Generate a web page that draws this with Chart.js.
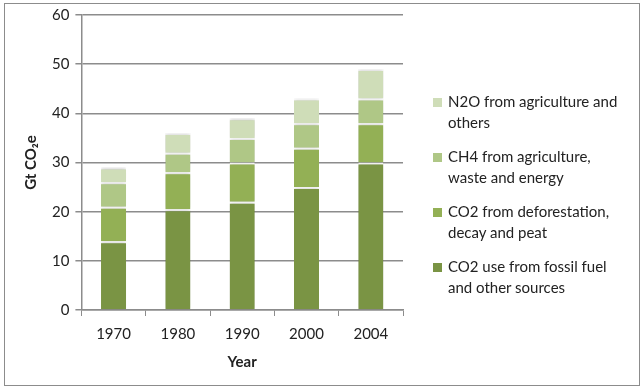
<!DOCTYPE html>
<html><head><meta charset="utf-8">
<script src="https://cdn.jsdelivr.net/npm/chart.js@4"></script>
<style>
html,body{margin:0;padding:0;background:#fff;}
#wrap{position:relative;width:643px;height:389px;overflow:hidden;}
#frame{position:absolute;left:4px;top:3px;width:636px;height:383px;border:1px solid #8c8c8c;box-sizing:border-box;}
canvas{position:absolute;left:0;top:0;}
#legend{position:absolute;left:433px;top:91px;font-family:Lato, "Open Sans", sans-serif;font-size:15px;color:#222;line-height:21px;}
.item{position:relative;padding-left:15px;margin-bottom:13px;}
.sw{position:absolute;left:0;top:7px;width:9px;height:9px;}
</style></head>
<body><div id="wrap"><div id="frame"></div><canvas id="c" width="643" height="389"></canvas><div id="legend"></div></div>
<script>
const years = ["1970","1980","1990","2000","2004"];
const fossil = [14, 20.5, 22, 25, 30];
const deforestation = [7, 7.5, 8, 8, 8];
const ch4 = [5, 4, 5, 5, 5];
const n2o = [3, 4, 4, 5, 6];
const seriesNames = ["CO2 use from fossil fuel and other sources","CO2 from deforestation, decay and peat","CH4 from agriculture, waste and energy","N2O from agriculture and others"];
const legendLines = [["N2O from agriculture and","others"],["CH4 from agriculture,","waste and energy"],["CO2 from deforestation,","decay and peat"],["CO2 use from fossil fuel","and other sources"]];
const colors = ["#7a9444","#93b055","#afc786","#cfddb8"];
const yTicks = [0,10,20,30,40,50,60];

const F = 'Lato, "Open Sans", sans-serif';
const mk = (label, data, color) => ({label, data, backgroundColor: color, borderColor:'#ffffff', borderWidth:{top:2,left:0,right:0,bottom:0}, borderSkipped:false, categoryPercentage:1, barPercentage:0.39});
const shadow = {id:'shadow', beforeDatasetsDraw(c){const x=c.ctx;x.save();x.shadowColor='rgba(0,0,0,0.25)';x.shadowBlur=4;}, afterDatasetsDraw(c){c.ctx.restore();}};
new Chart(document.getElementById('c'), {
  type:'bar',
  data:{labels:years, datasets:[mk(seriesNames[0],fossil,colors[0]),mk(seriesNames[1],deforestation,colors[1]),mk(seriesNames[2],ch4,colors[2]),mk(seriesNames[3],n2o,colors[3])]},
  options:{
    responsive:false, animation:false,
    layout:{padding:{left:18,top:12,right:240,bottom:14}},
    plugins:{legend:{display:false}, tooltip:{enabled:false}},
    scales:{
      x:{stacked:true, grid:{offset:true, drawOnChartArea:false, color:'#8c8c8c', tickLength:6}, border:{color:'#8c8c8c',width:1.5},
         ticks:{color:'#222', font:{family:F,size:15}, padding:9},
         title:{display:true, text:'Year', color:'#222', font:{family:F,size:15,weight:'bold'}, padding:{top:1}}},
      y:{stacked:true, min:0, max:60, afterBuildTicks(a){a.ticks=yTicks.map(v=>({value:v}));},
         grid:{color:'#8c8c8c', lineWidth:1.5, tickLength:6}, border:{color:'#8c8c8c',width:1.5},
         ticks:{color:'#222', font:{family:F,size:15}, padding:6},
         title:{display:true, text:'Gt CO₂e', color:'#222', font:{family:F,size:15,weight:'bold'}, padding:{bottom:6}}}
    }
  },
  plugins:[shadow]
});
const lg=document.getElementById('legend');
legendLines.forEach((ls,i)=>{const d=document.createElement('div');d.className='item';const s=document.createElement('span');s.className='sw';s.style.background=colors[3-i];d.appendChild(s);d.appendChild(document.createTextNode(ls[0]));d.appendChild(document.createElement('br'));d.appendChild(document.createTextNode(ls[1]));lg.appendChild(d);});
</script></body></html>
